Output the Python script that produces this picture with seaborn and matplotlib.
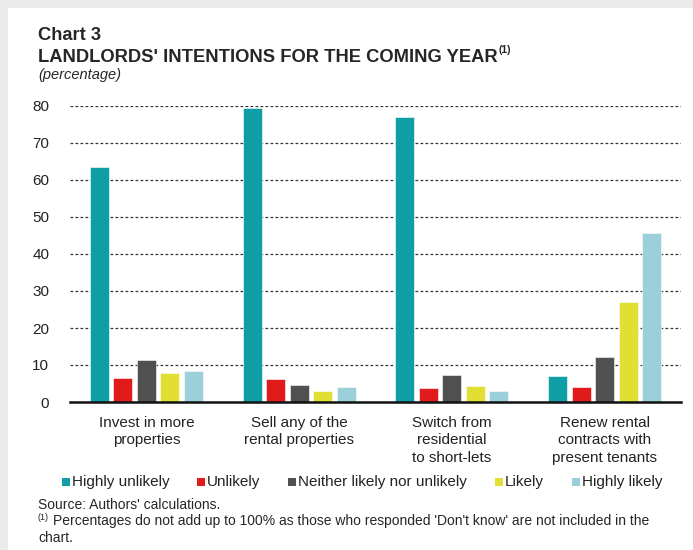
import matplotlib
matplotlib.use("Agg")
import matplotlib.pyplot as plt
import seaborn as sns
import pandas as pd
from matplotlib.patches import Rectangle

categories = ["Invest in more\nproperties", "Sell any of the\nrental properties",
              "Switch from\nresidential\nto short-lets", "Renew rental\ncontracts with\npresent tenants"]
series = ["Highly unlikely", "Unlikely", "Neither likely nor unlikely", "Likely", "Highly likely"]
highly_unlikely = [63.6, 79.5, 77.0, 7.0]
unlikely = [6.5, 6.1, 3.7, 4.0]
neither = [11.3, 4.5, 7.2, 12.2]
likely = [7.8, 3.1, 4.2, 26.9]
highly_likely = [8.3, 4.0, 3.1, 45.6]
yticks = [0, 10, 20, 30, 40, 50, 60, 70, 80]
colors = ["#0F9EA5", "#E11B1B", "#505050", "#E1E032", "#9BCFD9"]

rows = []
for s, vals in zip(series, [highly_unlikely, unlikely, neither, likely, highly_likely]):
    for c, v in zip(categories, vals):
        rows.append({"cat": c, "series": s, "value": v})
df = pd.DataFrame(rows)

sns.set_style("white")
FONT = ["Liberation Sans Narrow", "Liberation Sans", "DejaVu Sans"]
plt.rcParams["font.family"] = FONT

W, H = 693, 550
fig = plt.figure(figsize=(W / 100, H / 100), dpi=100)
fig.patch.set_facecolor("#EBEBEB")
fig.patches.append(Rectangle((8 / W, 0), 1, 1 - 8 / H, transform=fig.transFigure,
                             facecolor="white", edgecolor="none", zorder=-10))

ax = fig.add_axes([70 / W, (H - 402) / H, 611 / W, (402 - 106) / H])
ax.set_zorder(2)
ax.set_facecolor("none")
sns.barplot(data=df, x="cat", y="value", hue="series", hue_order=series,
            palette=colors, width=0.77, gap=0.19, ax=ax, legend=False,
            edgecolor="white", linewidth=0.4, saturation=1, zorder=3)

ax.set_ylim(0, 80)
ax.set_xlim(-0.5, 3.5)
ax.set_yticks(yticks)
ax.set_yticklabels([str(t) for t in yticks], fontsize=11, color="#222222")
ax.tick_params(axis="y", length=0, pad=15)
ax.tick_params(axis="x", length=0, pad=10)
ax.set_xticks(range(len(categories)))
ax.set_xticklabels(categories, fontsize=11, color="#222222", linespacing=1.32)
ax.set_xlabel("")
ax.set_ylabel("")
for t in yticks[1:]:
    ax.axhline(t, color="#333333", linestyle=(0, (2.2, 1.8)), linewidth=0.9, zorder=1)
for sp in ["left", "right", "top"]:
    ax.spines[sp].set_visible(False)
ax.spines["bottom"].set_color("#111111")
ax.spines["bottom"].set_linewidth(1.8)
ax.spines["bottom"].set_zorder(5)

# titles
fig.text(38 / W, 1 - 35 / H, "Chart 3", fontsize=13.2, fontweight="bold", va="center", ha="left")
t = fig.text(38 / W, 1 - 57 / H, "LANDLORDS' INTENTIONS FOR THE COMING YEAR", fontsize=13.2,
             fontweight="bold", va="center", ha="left")
fig.canvas.draw()
bb = t.get_window_extent()
fig.text(bb.x1 / W + 0.001, 1 - 50 / H, "(1)", fontsize=7.5, fontweight="bold", va="center", ha="left")
fig.text(38 / W, 1 - 75 / H, "(percentage)", fontsize=10.5, style="italic", va="center", ha="left")

# legend
leg_items = [(62, series[0]), (197, series[1]), (288, series[2]), (495, series[3]), (572, series[4])]
for (x, lab), col in zip(leg_items, colors):
    fig.patches.append(Rectangle(((x) / W, 1 - 486 / H), 8 / W, 8 / H, transform=fig.transFigure,
                                 facecolor=col, edgecolor="none"))
    fig.text((x + 10) / W, 1 - 482 / H, lab, fontsize=11, va="center", ha="left", color="#222222")

fig.text(38 / W, 1 - 505 / H, "Source: Authors' calculations.", fontsize=10, va="center", ha="left")
fig.text(38 / W, 1 - 517 / H, "(1)", fontsize=6.5, va="center", ha="left")
fig.text(53 / W, 1 - 521 / H,
         "Percentages do not add up to 100% as those who responded 'Don't know' are not included in the",
         fontsize=10, va="center", ha="left")
fig.text(38 / W, 1 - 538 / H, "chart.", fontsize=10, va="center", ha="left")

fig.savefig("out.png", dpi=100, facecolor=fig.get_facecolor())
